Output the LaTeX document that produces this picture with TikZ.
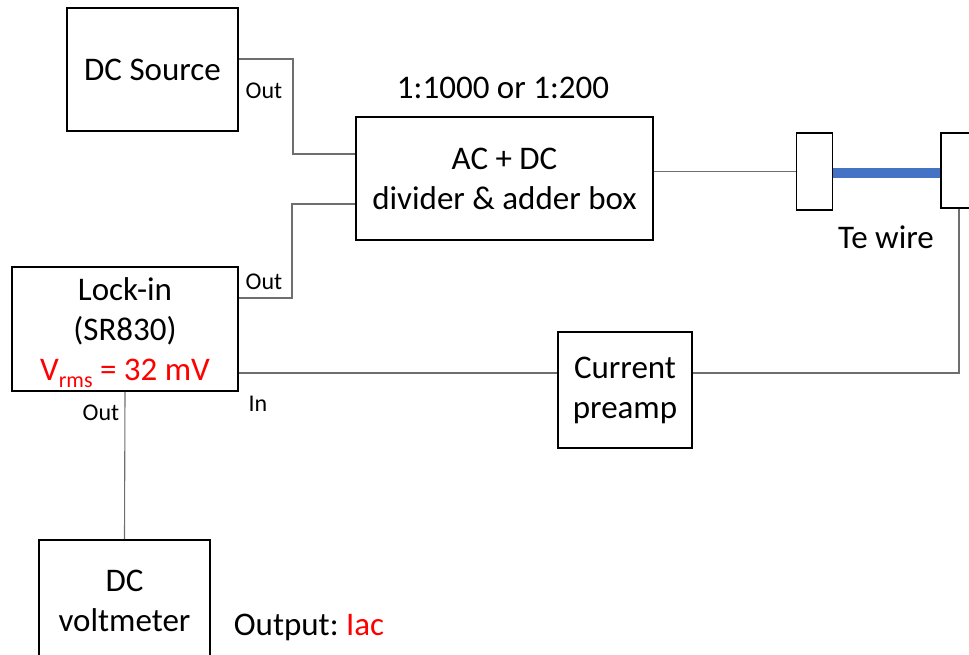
\documentclass[tikz,border=0pt]{standalone}
\usepackage{fontspec}
\setmainfont{Carlito}
\frenchspacing
\usetikzlibrary{calc}
\definecolor{wireblue}{RGB}{68,114,196}
\definecolor{conn}{RGB}{110,110,110}
\tikzset{
  box/.style={draw=black, line width=1.8pt, inner sep=0pt, align=center,
    font=\fontsize{33}{40}\selectfont},
  conn/.style={draw=conn, line width=1.1pt},
  small/.style={inner sep=0pt, font=\fontsize{24}{26}\selectfont},
  big/.style={inner sep=0pt, font=\fontsize{33}{40}\selectfont},
}
\begin{document}
\begin{tikzpicture}[x=1pt,y=-1pt]
\useasboundingbox (0,0) rectangle (969,655);
\clip (0,0) rectangle (969,655);
% boxes
\node[box, minimum width=171pt, minimum height=123pt] (dcs) at (152.5,69.5) {DC Source};
\node[box, minimum width=297pt, minimum height=123pt] (adder) at (504.5,178.5) {AC + DC\\divider \& adder box};
\node[box, minimum width=36pt, minimum height=77pt] (lc) at (814.5,171.5) {};
\node[box, minimum width=36pt, minimum height=75pt] (rc) at (959,170.5) {};
\node[box, minimum width=226pt, minimum height=124pt] (lock) at (125,329) {\raisebox{0pt}[30pt][0pt]{}Lock-in\\(SR830)\\\textcolor{red}{V\raisebox{-0.2em}{\fontsize{22}{22}\selectfont rms} = 32 mV}};
\node[box, minimum width=134pt, minimum height=116pt] (pre) at (625,390) {Current\\preamp};
\node[box, minimum width=171pt, minimum height=122pt] (volt) at (124.5,601) {DC\\voltmeter};
% connectors
\draw[conn] ([yshift=10.5pt]dcs.east) -| (293,154) -- ([yshift=24.5pt]adder.west);
\draw[conn] ([yshift=-25.5pt]adder.west) -| (292,298) -- ([yshift=31pt]lock.east);
\draw[conn] (adder.east |- lc.west) -- (lc.west);
\draw[wireblue, line width=10pt] ([yshift=-2pt]lc.east) -- ([yshift=-2pt]lc.east -| rc.west);
\draw[conn] (rc.south) |- ([yshift=17pt]pre.east);
\draw[conn] ([yshift=17pt]pre.west) -- ([yshift=17pt]pre.west -| lock.east);
\draw[conn] (lock.south) -- (volt.north);
% labels
\node[small] (o1) at (264,91) {Out};
\node[small] (o2) at (264,282) {Out};
\node[small] (o3) at (101,413) {Out};
\node[small] (in) at (258,404) {In};
\node[big] (ratio) at (503,88) {1:1000 or 1:200};
\node[big] (te) at (886,237) {Te wire};
\node[big] (outp) at (309,627) {Output: \textcolor{red}{Iac}};
\end{tikzpicture}
\end{document}
